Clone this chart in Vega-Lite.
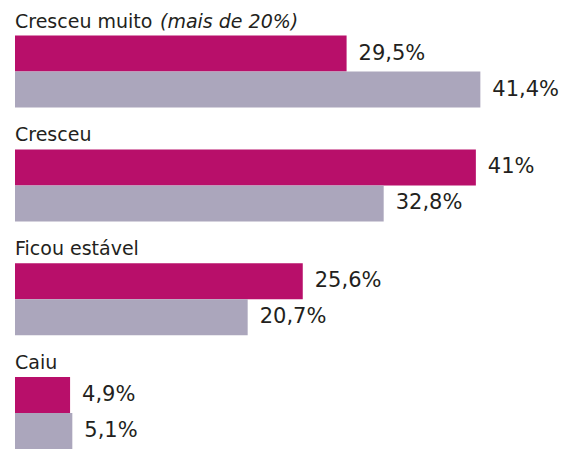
{
  "$schema": "https://vega.github.io/schema/vega-lite/v6.json",
  "autosize": "none",
  "width": 550,
  "height": 449,
  "padding": {"left": 15, "right": 0, "top": 0, "bottom": 0},
  "background": "white",
  "config": {"view": {"stroke": null}, "font": "DejaVu Sans"},
  "datasets": {
    "bars": [
      {"cat": "Cresceu muito", "serie": "a", "value": 29.5, "label": "29,5%"},
      {"cat": "Cresceu muito", "serie": "b", "value": 41.4, "label": "41,4%"},
      {"cat": "Cresceu", "serie": "a", "value": 41.0, "label": "41%"},
      {"cat": "Cresceu", "serie": "b", "value": 32.8, "label": "32,8%"},
      {"cat": "Ficou estável", "serie": "a", "value": 25.6, "label": "25,6%"},
      {"cat": "Ficou estável", "serie": "b", "value": 20.7, "label": "20,7%"},
      {"cat": "Caiu", "serie": "a", "value": 4.9, "label": "4,9%"},
      {"cat": "Caiu", "serie": "b", "value": 5.1, "label": "5,1%"}
    ],
    "cats": [
      {"cat": "Cresceu muito", "note": "(mais de 20%)"},
      {"cat": "Cresceu", "note": ""},
      {"cat": "Ficou estável", "note": ""},
      {"cat": "Caiu", "note": ""}
    ]
  },
  "resolve": {"scale": {"y": "shared", "x": "shared"}},
  "layer": [
    {
      "data": {"name": "bars"},
      "mark": {"type": "bar", "cornerRadius": 0},
      "encoding": {
        "y": {"field": "cat", "type": "nominal", "sort": ["Cresceu muito", "Cresceu", "Ficou estável", "Caiu"], "axis": null,
              "scale": {"paddingInner": 0.3673, "paddingOuter": 0.1564, "align": 1}},
        "yOffset": {"field": "serie", "type": "nominal", "scale": {"paddingInner": 0, "paddingOuter": 0}},
        "x": {"field": "value", "type": "quantitative", "axis": null, "scale": {"domain": [0, 48.93], "nice": false, "zero": true}},
        "color": {"field": "serie", "type": "nominal", "legend": null, "scale": {"domain": ["a", "b"], "range": ["#b80f6a", "#aba6bc"]}}
      }
    },
    {
      "data": {"name": "bars"},
      "mark": {"type": "text", "align": "left", "baseline": "middle", "dx": 12, "dy": 0, "fontSize": 21, "color": "#231f20"},
      "encoding": {
        "y": {"field": "cat", "type": "nominal", "sort": ["Cresceu muito", "Cresceu", "Ficou estável", "Caiu"]},
        "yOffset": {"field": "serie", "type": "nominal"},
        "x": {"field": "value", "type": "quantitative"},
        "text": {"field": "label"}
      }
    },
    {
      "data": {"name": "cats"},
      "mark": {"type": "text", "align": "left", "baseline": "alphabetic", "dy": -8, "fontSize": 19, "color": "#231f20"},
      "encoding": {
        "y": {"field": "cat", "type": "nominal", "sort": ["Cresceu muito", "Cresceu", "Ficou estável", "Caiu"], "bandPosition": 0},
        "x": {"datum": 0, "type": "quantitative"},
        "text": {"field": "cat"}
      }
    },
    {
      "data": {"name": "cats"},
      "mark": {"type": "text", "align": "left", "baseline": "alphabetic", "dy": -8, "dx": 145, "fontSize": 19, "fontStyle": "italic", "color": "#231f20"},
      "encoding": {
        "y": {"field": "cat", "type": "nominal", "sort": ["Cresceu muito", "Cresceu", "Ficou estável", "Caiu"], "bandPosition": 0},
        "x": {"datum": 0, "type": "quantitative"},
        "text": {"field": "note"}
      }
    }
  ]
}
